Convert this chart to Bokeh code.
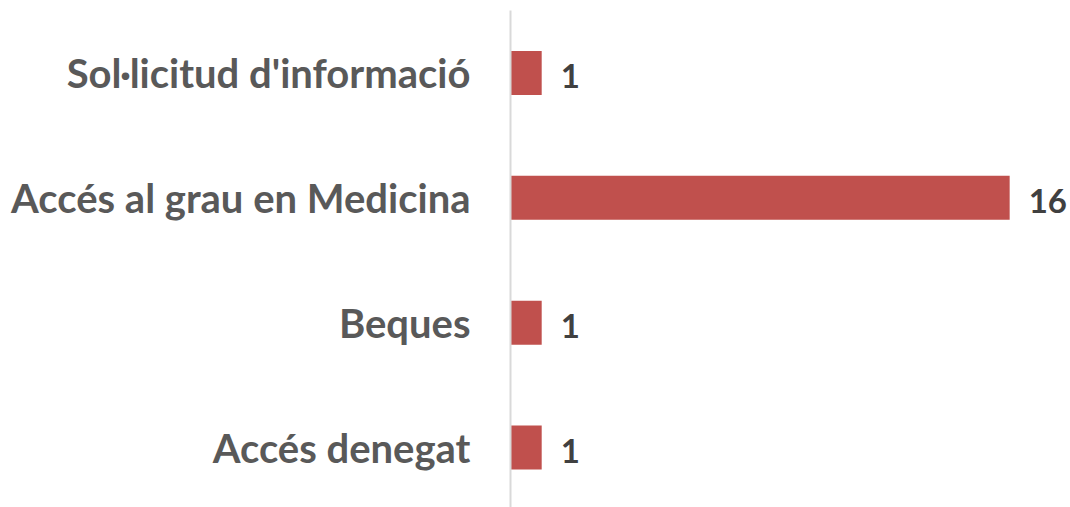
from bokeh.plotting import figure
from bokeh.models import Range1d, FixedTicker, ColumnDataSource
from bokeh.core.properties import value
from bokeh.embed import file_html
from bokeh.resources import INLINE

categories = ["Accés denegat", "Beques", "Accés al grau en Medicina", "Sol·licitud d'informació"]
counts = [1, 1, 16, 1]

pos = list(range(len(categories)))
src = ColumnDataSource(dict(y=pos, v=counts, lab=[str(c) for c in counts]))

p = figure(width=1070, height=507, output_backend="svg", toolbar_location=None,
           x_range=Range1d(0, 17.95), y_range=Range1d(-0.48, 3.5),
           min_border_left=510, min_border_right=0, min_border_top=10, min_border_bottom=0)

p.hbar(y="y", right="v", left=0, height=0.352, source=src, fill_color="#C0504D", line_color=None)
p.text(x="v", y="y", text="lab", source=src, x_offset=19, y_offset=3,
       text_font=value("Lato"), text_font_style="bold", text_font_size="33px",
       text_color="#404040", text_baseline="middle", text_align="left")

p.xaxis.visible = False
p.xgrid.visible = False
p.ygrid.visible = False
p.outline_line_color = None

ya = p.yaxis[0]
ya.ticker = FixedTicker(ticks=pos)
ya.major_label_overrides = {i: c for i, c in enumerate(categories)}
ya.major_tick_line_color = None
ya.minor_tick_line_color = None
ya.axis_line_color = "#D9D9D9"
ya.axis_line_width = 2
ya.major_label_standoff = 34
ya.major_label_text_font = "Lato"
ya.major_label_text_font_style = "bold"
ya.major_label_text_font_size = "40px"
ya.major_label_text_color = "#595959"

open("out.html", "w").write(file_html(p, INLINE))
